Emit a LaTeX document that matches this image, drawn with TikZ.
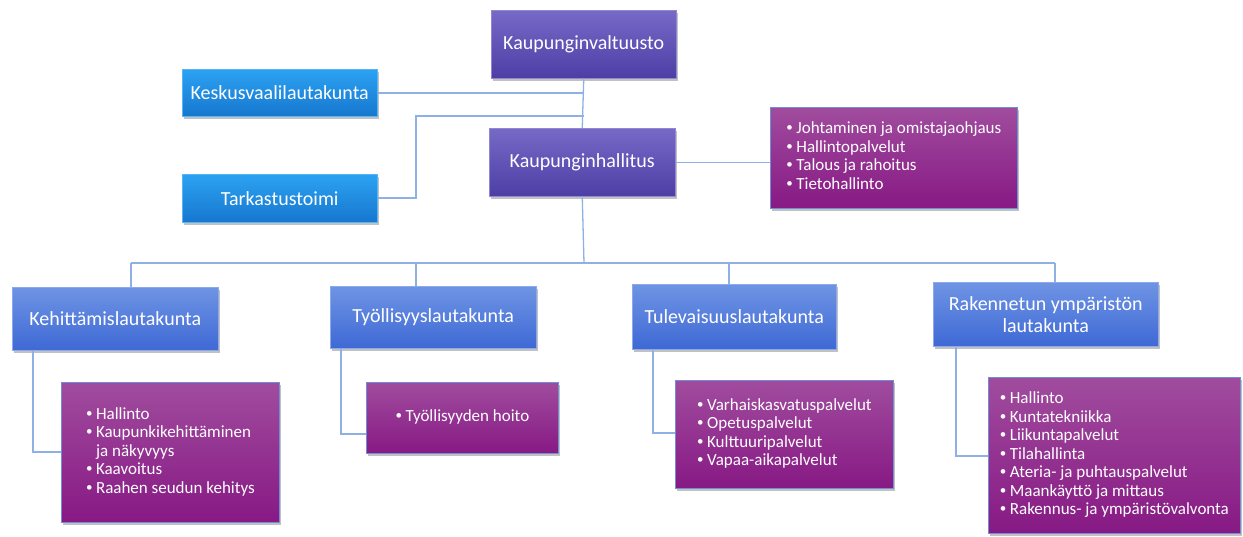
\documentclass[tikz,border=0pt]{standalone}
\usepackage{fontspec}
\setmainfont{Carlito}
\usetikzlibrary{shadows}
\definecolor{linec}{HTML}{8FB0E4}
\definecolor{topA}{HTML}{7769C6}
\definecolor{topB}{HTML}{4D3EA6}
\definecolor{sideA}{HTML}{2CA2F2}
\definecolor{sideB}{HTML}{1677CF}
\definecolor{lauA}{HTML}{6F94E4}
\definecolor{lauB}{HTML}{3E69D5}
\definecolor{lisA}{HTML}{A04C9E}
\definecolor{lisM}{HTML}{962392}
\definecolor{lisB}{HTML}{871984}
\definecolor{lisD}{HTML}{6F8ED6}
\newcommand{\bl}{\raisebox{0.12em}{\fontsize{13}{13}\selectfont\textbullet}}
\tikzset{
  base/.style={anchor=north west, inner sep=0pt, text=white, align=center,
    drop shadow={shadow xshift=2pt, shadow yshift=-2.5pt, opacity=0.35, fill=black!70}},
  titlefont/.style={font=\fontsize{20}{22}\selectfont},
  topbox/.style={base, titlefont, top color=topA, bottom color=topB, draw=topA!80!white, line width=0.5pt},
  sidebox/.style={base, titlefont, top color=sideA, bottom color=sideB, draw=sideA!80!white, line width=0.5pt},
  laubox/.style={base, titlefont, top color=lauA, bottom color=lauB, draw=lauA!80!white, line width=0.5pt},
  listbox/.style={base, font=\fontsize{17}{18.5}\selectfont, top color=lisA, middle color=lisM, bottom color=lisB, draw=lisD, line width=0.8pt},
  conn/.style={draw=linec, line width=1.3pt}
}
\begin{document}
\begin{tikzpicture}[x=1pt, y=-1pt]
\useasboundingbox (0,0) rectangle (1243,536);
% boxes
\node[topbox, minimum width=185pt, minimum height=68pt] (kv) at (491,10) {Kaupunginvaltuusto};
\node[topbox, minimum width=186pt, minimum height=68pt] (kh) at (489,128) {Kaupunginhallitus};
\node[sidebox, minimum width=195pt, minimum height=47pt] (kes) at (182,69) {Keskusvaalilautakunta};
\node[sidebox, minimum width=195pt, minimum height=48pt] (tar) at (182,174) {Tarkastustoimi};
\node[listbox, minimum width=247pt, minimum height=101pt] (khl) at (770,107) {\begin{tabular}{@{}l@{\hspace{3.5pt}}l@{}}
\bl & Johtaminen ja omistajaohjaus\\
\bl & Hallintopalvelut\\
\bl & Talous ja rahoitus\\
\bl & Tietohallinto
\end{tabular}};
\node[laubox, minimum width=206pt, minimum height=63pt] (keh) at (12,287) {Kehittämislautakunta};
\node[laubox, minimum width=206pt, minimum height=62pt] (tyo) at (330,286) {Työllisyyslautakunta};
\node[laubox, minimum width=204pt, minimum height=65pt] (tul) at (632,284) {Tulevaisuuslautakunta};
\node[laubox, minimum width=225pt, minimum height=64pt] (rak) at (933,282) {Rakennetun ympäristön\\lautakunta};
\node[listbox, minimum width=218pt, minimum height=140pt] (kehl) at (61,382) {\begin{tabular}{@{}l@{\hspace{3.5pt}}l@{}}
\bl & Hallinto\\
\bl & Kaupunkikehittäminen\\
 & ja näkyvyys\\
\bl & Kaavoitus\\
\bl & Raahen seudun kehitys
\end{tabular}};
\node[listbox, minimum width=192pt, minimum height=71pt] (tyol) at (366,382) {\begin{tabular}{@{}l@{\hspace{3.5pt}}l@{}}
\bl & Työllisyyden hoito
\end{tabular}};
\node[listbox, minimum width=218pt, minimum height=108pt] (tull) at (675,380) {\begin{tabular}{@{}l@{\hspace{3.5pt}}l@{}}
\bl & Varhaiskasvatuspalvelut\\
\bl & Opetuspalvelut\\
\bl & Kulttuuripalvelut\\
\bl & Vapaa-aikapalvelut
\end{tabular}};
\node[listbox, minimum width=252pt, minimum height=156pt] (rakl) at (988,377) {\begin{tabular}{@{}l@{\hspace{3.5pt}}l@{}}
\bl & Hallinto\\
\bl & Kuntatekniikka\\
\bl & Liikuntapalvelut\\
\bl & Tilahallinta\\
\bl & Ateria- ja puhtauspalvelut\\
\bl & Maankäyttö ja mittaus\\
\bl & Rakennus- ja ympäristövalvonta
\end{tabular}};
% coordinates
\coordinate (jk) at (584,93);
\coordinate (jt) at (584,116);
\coordinate (tb1) at (416,198);
\coordinate (tb2) at (416,116);
\coordinate (bus) at (584,263);
\coordinate (b1) at (131,263);
\coordinate (b2) at (416,263);
\coordinate (b3) at (729,263);
\coordinate (b4) at (1055,263);
\coordinate (c1) at (33,452);
\coordinate (c2) at (341,434);
\coordinate (c3) at (653,433);
\coordinate (c4) at (956,456);
% connectors
\draw[conn] (kv.south) -- (kh.north);
\draw[conn] (kes.east |- jk) -- (jk);
\draw[conn] (tar.east |- tb1) -- (tb1) -- (tb2) -- (jt);
\draw[conn] (kh.east) -- (khl.west |- kh.east);
\draw[conn] (kh.south) -- (bus);
\draw[conn] (b1) -- (b4);
\draw[conn] (b1) -- (b1 |- keh.north);
\draw[conn] (b2) -- (b2 |- tyo.north);
\draw[conn] (b3) -- (b3 |- tul.north);
\draw[conn] (b4) -- (b4 |- rak.north);
\draw[conn] (c1 |- keh.south) -- (c1) -- (kehl.west |- c1);
\draw[conn] (c2 |- tyo.south) -- (c2) -- (tyol.west |- c2);
\draw[conn] (c3 |- tul.south) -- (c3) -- (tull.west |- c3);
\draw[conn] (c4 |- rak.south) -- (c4) -- (rakl.west |- c4);
\end{tikzpicture}
\end{document}
